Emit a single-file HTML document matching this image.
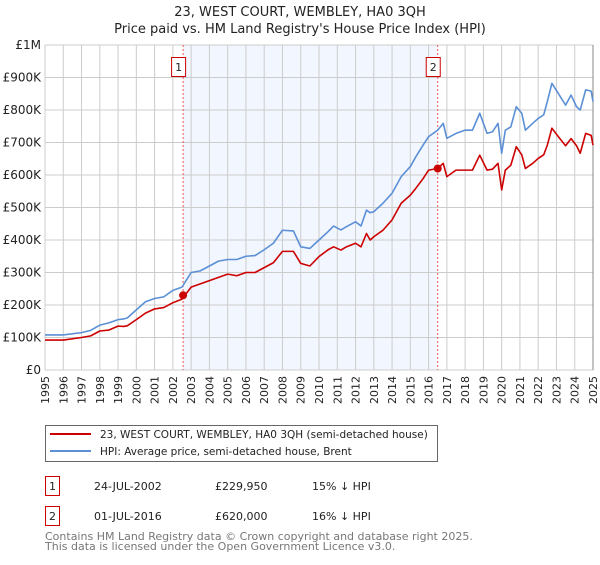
<!DOCTYPE html>
<html><head><meta charset="utf-8"><style>
body{margin:0;background:#fff;font-family:"Liberation Sans","DejaVu Sans",sans-serif;}
svg text{font-family:"DejaVu Sans","Liberation Sans",sans-serif;}
</style></head><body>
<svg id="chart" width="600" height="560" xmlns="http://www.w3.org/2000/svg">
<text x="300" y="16" text-anchor="middle" font-size="13" fill="#222">23, WEST COURT, WEMBLEY, HA0 3QH</text>
<text x="300" y="33" text-anchor="middle" font-size="13" fill="#222">Price paid vs. HM Land Registry's House Price Index (HPI)</text>
<g id="plot"></g>
<g>
<rect x="45.5" y="425.5" width="392" height="36" fill="#fff" stroke="#666"/>
<line x1="50" y1="434" x2="91" y2="434" stroke="#cc0000" stroke-width="2"/>
<text x="100" y="438" font-size="10.5" fill="#222">23, WEST COURT, WEMBLEY, HA0 3QH (semi-detached house)</text>
<line x1="50" y1="451" x2="91" y2="451" stroke="#5b8fd6" stroke-width="2"/>
<text x="100" y="455" font-size="10.5" fill="#222">HPI: Average price, semi-detached house, Brent</text>
</g>
<g font-size="11" fill="#222">
<rect x="45.5" y="476.5" width="14" height="19" fill="#fff" stroke="#cc0000"/>
<text x="52.5" y="490" text-anchor="middle">1</text>
<text x="94" y="490">24-JUL-2002</text><text x="215" y="490">£229,950</text><text x="312" y="490">15% ↓ HPI</text>
<rect x="45.5" y="506.5" width="14" height="19" fill="#fff" stroke="#cc0000"/>
<text x="52.5" y="520" text-anchor="middle">2</text>
<text x="94" y="520">01-JUL-2016</text><text x="215" y="520">£620,000</text><text x="312" y="520">16% ↓ HPI</text>
</g>
<text x="45" y="540" font-size="11" fill="#777">Contains HM Land Registry data © Crown copyright and database right 2025.</text>
<text x="45" y="550" font-size="11" fill="#777">This data is licensed under the Open Government Licence v3.0.</text>
</svg>
<script>
const hpiYears=[1995,1996,1997,1997.5,1998,1998.5,1999,1999.3,1999.5,2000,2000.5,2001,2001.5,2002,2002.5,2003,2003.5,2004,2004.5,2005,2005.5,2006,2006.5,2007,2007.5,2008,2008.6,2009,2009.5,2010,2010.5,2010.8,2011.2,2011.5,2012,2012.3,2012.6,2012.8,2013,2013.5,2014,2014.5,2015,2015.3,2015.7,2016,2016.5,2016.8,2017,2017.5,2018,2018.4,2018.8,2019.2,2019.5,2019.8,2020,2020.2,2020.5,2020.8,2021.1,2021.3,2021.7,2022,2022.3,2022.5,2022.75,2023.1,2023.5,2023.8,2024.1,2024.3,2024.6,2024.9,2025];
const hpiValues=[108,108,115,122,138,145,155,157,160,185,210,220,225,245,255,300,305,320,335,340,340,350,352,370,390,430,428,379,374,400,426,443,431,441,456,443,492,484,487,513,544,595,626,656,692,718,738,759,713,728,738,738,790,728,733,759,667,738,748,810,790,738,759,774,785,826,882,851,815,846,810,800,862,858,826];
const ppYears=hpiYears;
const ppValues=[92,92,100,105,120,123,135,134,136,155,175,188,192,207,218,255,265,275,285,295,290,300,300,315,330,365,365,328,320,349,370,379,369,379,390,379,420,400,410,430,462,513,538,559,589,615,620,636,595,615,615,615,661,615,618,636,554,615,630,687,662,620,636,651,662,692,744,718,690,712,690,667,728,722,692];
const yTicks=[0,100,200,300,400,500,600,700,800,900,1000];
const yTickLabels=["£0","£100K","£200K","£300K","£400K","£500K","£600K","£700K","£800K","£900K","£1M"];
const xTicks=[1995,1996,1997,1998,1999,2000,2001,2002,2003,2004,2005,2006,2007,2008,2009,2010,2011,2012,2013,2014,2015,2016,2017,2018,2019,2020,2021,2022,2023,2024,2025];
const saleYears=[2002.56,2016.5];
const salePrices=[229.95,620];
const saleLabels=["1","2"];

const X0=45,X1=593,Y0=370,Y1=45;
const xs=y=>X0+(y-1995)/(2025-1995)*(X1-X0);
const ys=v=>Y0-v/1000*(Y0-Y1);
const NS="http://www.w3.org/2000/svg";
const g=document.getElementById('plot');
function mk(t,a){const e=document.createElementNS(NS,t);for(const k in a)e.setAttribute(k,a[k]);g.appendChild(e);return e;}
let r=mk('rect',{x:xs(saleYears[0]),y:Y1,width:xs(saleYears[1])-xs(saleYears[0]),height:Y0-Y1,fill:'#f2f6fe'});


xTicks.forEach(t=>{const l=mk('line',{x1:xs(t),x2:xs(t),y1:Y1,y2:Y0,stroke:'#ccc','stroke-width':1});


const tx=mk('text',{x:0,y:0,'font-size':11,fill:'#222','text-anchor':'end',transform:`translate(${xs(t)+4},${Y0+6}) rotate(-90)`});tx.textContent=t;

});
yTicks.forEach((t,i)=>{const l=mk('line',{x1:X0,x2:X1,y1:ys(t),y2:ys(t),stroke:'#ccc','stroke-width':1});


const tx=mk('text',{x:X0-4,y:ys(t)+4,'font-size':12,fill:'#222','text-anchor':'end'});tx.textContent=yTickLabels[i];

});
const ax=mk('line',{x1:X1,x2:X1,y1:Y1,y2:Y0,stroke:'#888','stroke-width':1});


saleYears.forEach((s,i)=>{const l=mk('line',{x1:xs(s),x2:xs(s),y1:Y1,y2:Y0,stroke:'#ee5555','stroke-width':1,'stroke-dasharray':'2,2'});


const b=mk('rect',{x:xs(s)-11.5,y:57.5,width:14,height:19,fill:'#fff',stroke:'#cc0000'});


const t=mk('text',{x:xs(s)-4.5,y:71,'font-size':11,fill:'#222','text-anchor':'middle'});t.textContent=saleLabels[i];

});
function line(xa,va,c,n){const p=mk('polyline',{points:xa.map((x,i)=>xs(x)+','+ys(va[i])).join(' '),fill:'none',stroke:c,'stroke-width':1.6,'stroke-linejoin':'round'});

}
line(hpiYears,hpiValues,'#5b8fd6','hpi-line');
line(ppYears,ppValues,'#cc0000','property-line');
saleYears.forEach((s,i)=>{const c=mk('circle',{cx:xs(s),cy:ys(salePrices[i]),r:4,fill:'#cc0000'});

});
</script>
</body></html>
